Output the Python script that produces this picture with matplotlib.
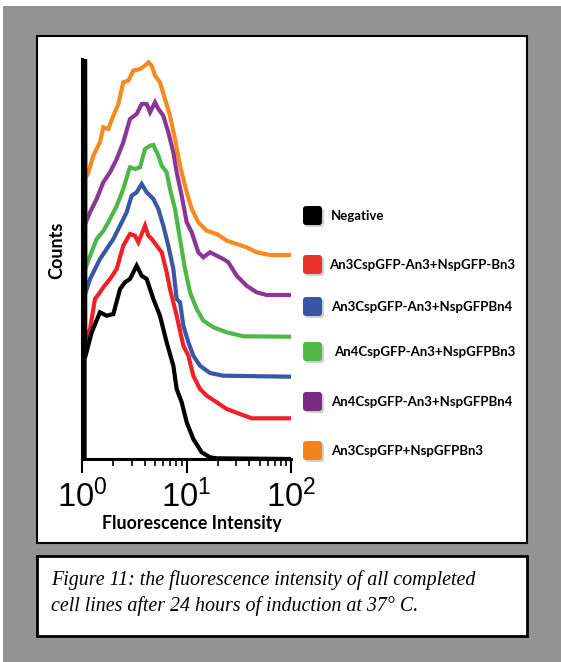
"""Fluorescence intensity histograms of the completed cell lines (Figure 11)."""
import numpy as np
import matplotlib.pyplot as plt
from matplotlib.patches import Rectangle, FancyBboxPatch

W, H = 561, 662

labels = ['Negative', 'An3CspGFP-An3+NspGFP-Bn3', 'An3CspGFP-An3+NspGFPBn4',
          'An4CspGFP-An3+NspGFPBn3', 'An4CspGFP-An3+NspGFPBn4',
          'An3CspGFP+NspGFPBn3']
colours = ['#000000', '#ee2226', '#3a56a5', '#4db848', '#8b3594', '#f68a20']
swatch = ['#000000', '#e8332a', '#3a55a4', '#52b848', '#7a2a80', '#f5821f']

# log10 of fluorescence intensity, counts (curves are stacked / offset);
# the first bin is off scale for every sample
neg_x = [0.025, 0.025, 0.03, 0.093, 0.172, 0.236, 0.30, 0.364, 0.411, 0.459,
         0.523, 0.571, 0.619, 0.683, 0.746, 0.81, 0.874, 0.906, 0.954, 1.002,
         1.065, 1.145, 1.225, 1.289, 2.0]
neg_y = [0, 1000, 101.7, 126.7, 146.7, 143.3, 145, 170, 176.7, 180,
         193.3, 183.3, 180, 160, 143.3, 116.7, 93.3, 70, 56.7, 36.7,
         20, 6.7, 1.7, 0.7, 0]

red_x = [0.025, 0.03, 0.077, 0.124, 0.172, 0.204, 0.268, 0.332, 0.395, 0.459,
         0.507, 0.539, 0.571, 0.603, 0.635, 0.667, 0.715, 0.763, 0.81, 0.842,
         0.906, 0.97, 1.018, 1.065, 1.129, 1.193, 1.289, 1.385, 1.512, 1.624,
         2.0]
red_y = [1000, 115, 130, 160, 166.7, 171.7, 180, 190, 213.3, 225,
         223.3, 216.7, 225, 233.3, 223.3, 220, 213.3, 206.7, 186.7, 170,
         143.3, 113.3, 103.3, 83.3, 70, 63.3, 56.7, 50, 45, 40.7,
         40.7]

blue_x = [0.025, 0.03, 0.077, 0.172, 0.236, 0.30, 0.364, 0.427, 0.475, 0.523,
          0.571, 0.619, 0.683, 0.731, 0.778, 0.826, 0.874, 0.906, 0.938, 0.97,
          1.018, 1.065, 1.129, 1.225, 1.352, 2.0]
blue_y = [1000, 165, 180, 200, 210, 220, 233.3, 246.7, 263.3, 266.7,
          275, 266.7, 260, 250, 233.3, 213.3, 190, 160, 156.7, 133.3,
          116.7, 103.3, 93.3, 86, 83.3, 82.3]

green_x = [0.025, 0.03, 0.077, 0.140, 0.204, 0.268, 0.332, 0.395, 0.443, 0.459,
           0.507, 0.555, 0.603, 0.651, 0.683, 0.731, 0.763, 0.81, 0.842, 0.89,
           0.938, 0.986, 1.034, 1.097, 1.161, 1.257, 1.385, 1.544, 2.0]
green_y = [1000, 190, 203, 220, 228, 240, 253, 270, 286.7, 291.7,
           290, 291.7, 310, 313.3, 314, 303.3, 293.3, 286.7, 270, 250,
           220, 190, 166.7, 150, 138.3, 131.7, 126.7, 122.7, 122.3]

purple_x = [0.025, 0.03, 0.077, 0.140, 0.204, 0.268, 0.332, 0.395, 0.459, 0.523,
            0.571, 0.619, 0.651, 0.699, 0.731, 0.778, 0.826, 0.874, 0.906, 0.954,
            1.002, 1.05, 1.113, 1.161, 1.225, 1.289, 1.352, 1.40, 1.480, 1.575,
            1.671, 1.767, 2.0]
purple_y = [1000, 235, 246.7, 260, 276.7, 286.7, 300, 316.7, 340, 345,
            355, 355, 346.7, 356.7, 350, 343.3, 326.7, 306.7, 286.7, 263.3,
            236.7, 226.7, 206.7, 201.7, 206.7, 203.3, 200, 196.7, 183.3, 173.3,
            166.7, 164, 164]

orange_x = [0.025, 0.03, 0.061, 0.108, 0.172, 0.204, 0.252, 0.300, 0.348, 0.395,
            0.443, 0.491, 0.555, 0.603, 0.635, 0.667, 0.699, 0.746, 0.794, 0.842,
            0.89, 0.938, 1.002, 1.05, 1.113, 1.193, 1.289, 1.385, 1.480, 1.575,
            1.671, 1.799, 2.0]
orange_y = [1000, 280, 286.7, 303.3, 316.7, 331.7, 330, 343.3, 355, 376.7,
            378.3, 388.3, 390, 393.3, 396.7, 393.3, 383.3, 376.7, 360, 343.3,
            320, 293.3, 266.7, 250, 236.7, 228.3, 225, 218.3, 215, 211.7,
            206.7, 204, 204]

series = [(neg_x, neg_y), (red_x, red_y), (blue_x, blue_y),
          (green_x, green_y), (purple_x, purple_y), (orange_x, orange_y)]


def px(x, y, w=0, h=0):
    """pixel box (top-left origin) -> figure fraction rect"""
    return [x / W, 1 - (y + h) / H, w / W, h / H]


fig = plt.figure(figsize=(W / 100, H / 100), dpi=100)
fig.patch.set_facecolor('white')

# grey page, white chart panel and caption box
bg = fig.add_axes([0, 0, 1, 1])
bg.set_xlim(0, W)
bg.set_ylim(H, 0)
bg.axis('off')
bg.add_patch(Rectangle((3, 6), W - 3, H - 6, facecolor='#939393', edgecolor='none'))
bg.add_patch(Rectangle((37, 36), 490, 507, facecolor='white', edgecolor='black', lw=1.5))
bg.add_patch(Rectangle((37, 556), 490, 80, facecolor='white', edgecolor='black', lw=2))

ax = fig.add_axes(px(82, 59, 209, 400))
for (lx, cy), c in list(zip(series, colours))[::-1]:
    ax.plot(10 ** np.array(lx), cy, color=c, lw=3, solid_joinstyle='miter')

ax.set_xscale('log')
ax.set_xlim(1, 100)
ax.set_ylim(0, 400)
ax.set_yticks([])
ax.spines[['top', 'right']].set_visible(False)
ax.spines[['left', 'bottom']].set_linewidth(2.2)
ax.set_facecolor('none')
ax.tick_params(axis='x', which='major', length=10, width=1.5, direction='out',
               labelsize=23.5, pad=5)
ax.tick_params(axis='x', which='minor', length=5, width=1.2, direction='out')
for t in ax.get_xticklabels():
    t.set_fontfamily('Liberation Sans')
ax.set_xlabel('Fluorescence Intensity', fontfamily='Lato', fontweight='bold',
              fontsize=12.8)
ax.xaxis.set_label_coords(0.525, -0.14)
ax.set_ylabel('Counts', fontfamily='Lato', fontweight='bold', fontsize=13)
ax.yaxis.set_label_coords(-0.08, 0.5225)

# legend: rounded colour squares with a soft shadow
rows = [216, 265, 307, 352, 402, 451]
text_x = [331, 329, 331, 334, 331, 331]
for lab, c, yc, tx in zip(labels, swatch, rows, text_x):
    bg.add_patch(FancyBboxPatch((305, yc - 8), 19, 19,
                                boxstyle='round,pad=0,rounding_size=3',
                                facecolor='#b0b0b0', edgecolor='none', alpha=0.6))
    bg.add_patch(FancyBboxPatch((303, yc - 10), 19, 19,
                                boxstyle='round,pad=0,rounding_size=3',
                                facecolor=c, edgecolor='none'))
    bg.text(tx, yc, lab, fontfamily='Lato', fontweight='bold', fontsize=9.5,
            va='center', ha='left')

bg.text(51, 585, 'Figure 11: the fluorescence intensity of all completed',
        fontfamily='Liberation Serif', style='italic', fontsize=14.4, va='baseline')
bg.text(51, 611, 'cell lines after 24 hours of induction at 37° C.',
        fontfamily='Liberation Serif', style='italic', fontsize=14.4, va='baseline')

fig.savefig('out.png', dpi=100)
